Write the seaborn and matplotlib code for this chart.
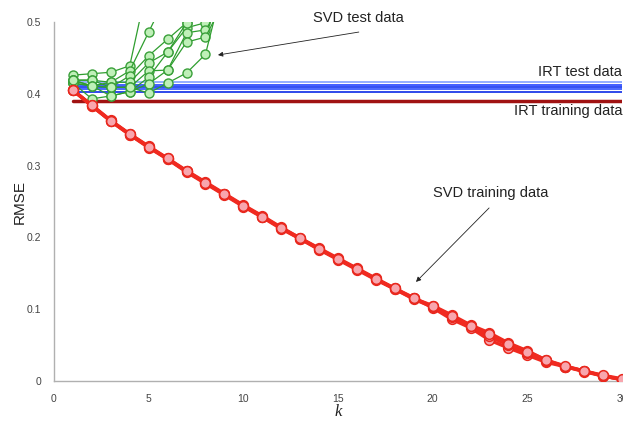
import numpy as np
import pandas as pd
import matplotlib
matplotlib.use("Agg")
import matplotlib.pyplot as plt
import seaborn as sns

# ---------------- data ----------------
k_train = list(range(1, 31))
svd_train_runs = [
    [0.405,0.383,0.362,0.343,0.326,0.309,0.292,0.276,0.260,0.244,0.229,0.213,0.198,0.184,0.170,0.156,0.142,0.128,0.115,0.105,0.092,0.078,0.067,0.053,0.042,0.029,0.020,0.014,0.007,0.002],
    [0.405,0.384,0.363,0.344,0.327,0.310,0.293,0.277,0.261,0.245,0.230,0.214,0.199,0.185,0.171,0.157,0.143,0.129,0.116,0.102,0.086,0.074,0.057,0.046,0.036,0.026,0.020,0.014,0.007,0.002],
    [0.405,0.383,0.362,0.343,0.325,0.309,0.291,0.275,0.259,0.243,0.228,0.212,0.198,0.183,0.169,0.155,0.141,0.128,0.114,0.103,0.089,0.076,0.062,0.050,0.039,0.028,0.020,0.013,0.007,0.002],
    [0.405,0.384,0.362,0.344,0.326,0.310,0.292,0.276,0.260,0.244,0.229,0.213,0.199,0.184,0.170,0.156,0.142,0.129,0.115,0.104,0.090,0.077,0.065,0.052,0.041,0.029,0.021,0.014,0.008,0.003],
]

k_test = list(range(1, 11))
svd_test_runs = [
    [0.426,0.428,0.430,0.439,0.560,0.600,0.620,0.640,0.650,0.660],
    [0.419,0.419,0.416,0.432,0.486,0.540,0.580,0.600,0.620,0.640],
    [0.419,0.411,0.409,0.425,0.453,0.476,0.499,0.540,0.580,0.600],
    [0.415,0.411,0.416,0.416,0.443,0.458,0.492,0.499,0.540,0.580],
    [0.419,0.419,0.409,0.409,0.432,0.433,0.485,0.489,0.530,0.580],
    [0.415,0.411,0.397,0.403,0.423,0.458,0.499,0.520,0.560,0.600],
    [0.415,0.393,0.397,0.403,0.414,0.433,0.472,0.479,0.530,0.580],
    [0.419,0.411,0.409,0.409,0.401,0.415,0.429,0.455,0.560,0.620],
]

k_irt = [1, 30]
irt_test_levels = [0.417, 0.412, 0.409, 0.406, 0.403]
irt_train_level = 0.390

x_ticks = [0, 5, 10, 15, 20, 25, 30]
y_ticks = [0, 0.1, 0.2, 0.3, 0.4, 0.5]
y_tick_labels = ["0", "0.1", "0.2", "0.3", "0.4", "0.5"]

# ---------------- build frames ----------------
train_df = pd.DataFrame(
    [(r, k, v) for r, run in enumerate(svd_train_runs) for k, v in zip(k_train, run)],
    columns=["run", "k", "rmse"])
test_df = pd.DataFrame(
    [(r, k, v) for r, run in enumerate(svd_test_runs) for k, v in zip(k_test, run)],
    columns=["run", "k", "rmse"])

# ---------------- figure ----------------
sns.set_style("white")
plt.rcParams['font.family'] = ['Liberation Sans', 'DejaVu Sans']

fig = plt.figure(figsize=(6.23, 4.24), dpi=100)
ax = fig.add_axes([54/623, 43/424, 568/623, 359/424])

# IRT test (blue)
blue_cols = ["#8aa8ff", "#3050ff", "#2040f0", "#3a5cff", "#1f3ae8"]
for lvl, c in zip(irt_test_levels, blue_cols):
    sns.lineplot(x=k_irt, y=[lvl, lvl], ax=ax, color=c, lw=1.3, zorder=2)

# IRT training (dark red)
sns.lineplot(x=k_irt, y=[irt_train_level]*2, ax=ax, color="#a01212", lw=2.5, zorder=2)

# SVD test (green)
sns.lineplot(data=test_df, x="k", y="rmse", units="run", estimator=None, ax=ax,
             color="#2f9e2f", lw=0.9, marker="o", markersize=6.5,
             markerfacecolor="#bff0b8", markeredgecolor="#3aa03a",
             markeredgewidth=1.0, zorder=3)

# SVD training (red)
sns.lineplot(data=train_df, x="k", y="rmse", units="run", estimator=None, ax=ax,
             color="#f02a20", lw=2.4, marker="o", markersize=7,
             markerfacecolor="#f8a6ae", markeredgecolor="#e8281e",
             markeredgewidth=1.1, zorder=4)

ax.set_xlim(0, 30)
ax.set_ylim(0, 0.5)
ax.set_xticks(x_ticks)
ax.set_yticks(y_ticks)
ax.set_yticklabels(y_tick_labels)

for s in ["top", "right"]:
    ax.spines[s].set_visible(False)
for s in ["left", "bottom"]:
    ax.spines[s].set_color("#b0b0b0")
    ax.spines[s].set_linewidth(1.0)
ax.tick_params(axis="both", direction="out", length=4, width=0.8, color="#b0b0b0",
               labelsize=7.5, labelcolor="#444444", pad=5)
ax.tick_params(axis="y", pad=5)

ax.set_ylabel("RMSE", fontsize=11, color="#222222", labelpad=0)
ax.set_xlabel("k", fontsize=12, fontstyle="italic", family=["Liberation Serif", "DejaVu Serif"],
              color="#222222", labelpad=0)

txt_kw = dict(fontsize=10.5, color="#222222", annotation_clip=False)
arrow = dict(arrowstyle="-|>", lw=0.6, color="#222222", mutation_scale=7,
             shrinkA=0, shrinkB=0)
ax.annotate("SVD test data", xy=(8.66, 0.454), xytext=(16.1, 0.505),
            ha="center", va="center", **txt_kw)
ax.annotate("", xy=(8.66, 0.454), xytext=(16.1, 0.486), arrowprops=arrow,
            annotation_clip=False)
ax.annotate("SVD training data", xy=(19.12, 0.138), xytext=(23.08, 0.262),
            ha="center", va="center", **txt_kw)
ax.annotate("", xy=(19.12, 0.138), xytext=(22.98, 0.241), arrowprops=arrow,
            annotation_clip=False)
ax.text(30, 0.430, "IRT test data", ha="right", va="center", fontsize=10.5, color="#222222")
ax.text(30, 0.376, "IRT training data", ha="right", va="center", fontsize=10.5, color="#222222")

fig.savefig("out.png", dpi=100)
